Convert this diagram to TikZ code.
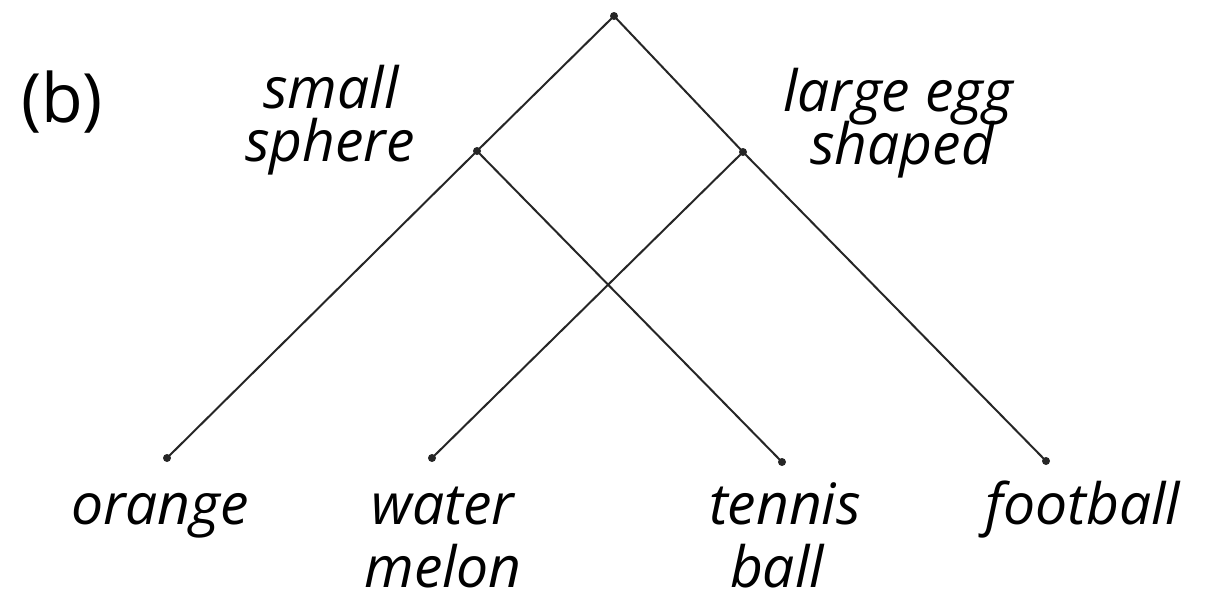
\documentclass[tikz,border=0pt]{standalone}
\usepackage{fontspec}
\setmainfont{Open Sans}
\begin{document}
\begin{tikzpicture}[x=1pt,y=-1pt,
  lbl/.style={font=\fontsize{57}{68}\selectfont\itshape, anchor=base, inner sep=0pt},
  nodesc/.style={text depth=0pt},
  dot/.style={circle, fill=black!85, inner sep=0pt, minimum size=8pt},
  edge/.style={draw=black!85, line width=2pt}]
\useasboundingbox (0,0) rectangle (1226,603);
\node[dot] (top) at (614,16) {};
\node[dot] (ls) at (477,151) {};
\node[dot] (le) at (743,152) {};
\node[dot] (or) at (167,458) {};
\node[dot] (wm) at (432,458) {};
\node[dot] (tb) at (782,462) {};
\node[dot] (fb) at (1046,461) {};
\draw[edge] (top.center) -- (ls.center) -- (or.center);
\draw[edge] (top.center) -- (le.center) -- (fb.center);
\draw[edge] (ls.center) -- (tb.center);
\draw[edge] (le.center) -- (wm.center);
\node[font=\fontsize{68}{80}\selectfont, anchor=base, inner sep=0pt] (b) at (62,122) {(b)};
\node[lbl] (s1) at (331,108) {small};
\node[lbl] (s2) at (330,161) {sphere};
\node[lbl] (e1) at (898,111) {large egg};
\node[lbl] (e2) at (902,164) {shaped};
\node[lbl] (o1) at (160,524) {orange};
\node[lbl] (w1) at (443,524) {water};
\node[lbl, nodesc] (w2) at (443,587) {melon};
\node[lbl] (t1) at (785,524) {tennis};
\node[lbl, nodesc] (t2) at (777,587) {ball};
\node[lbl] (f1) at (1083,524) {football};
\end{tikzpicture}
\end{document}
